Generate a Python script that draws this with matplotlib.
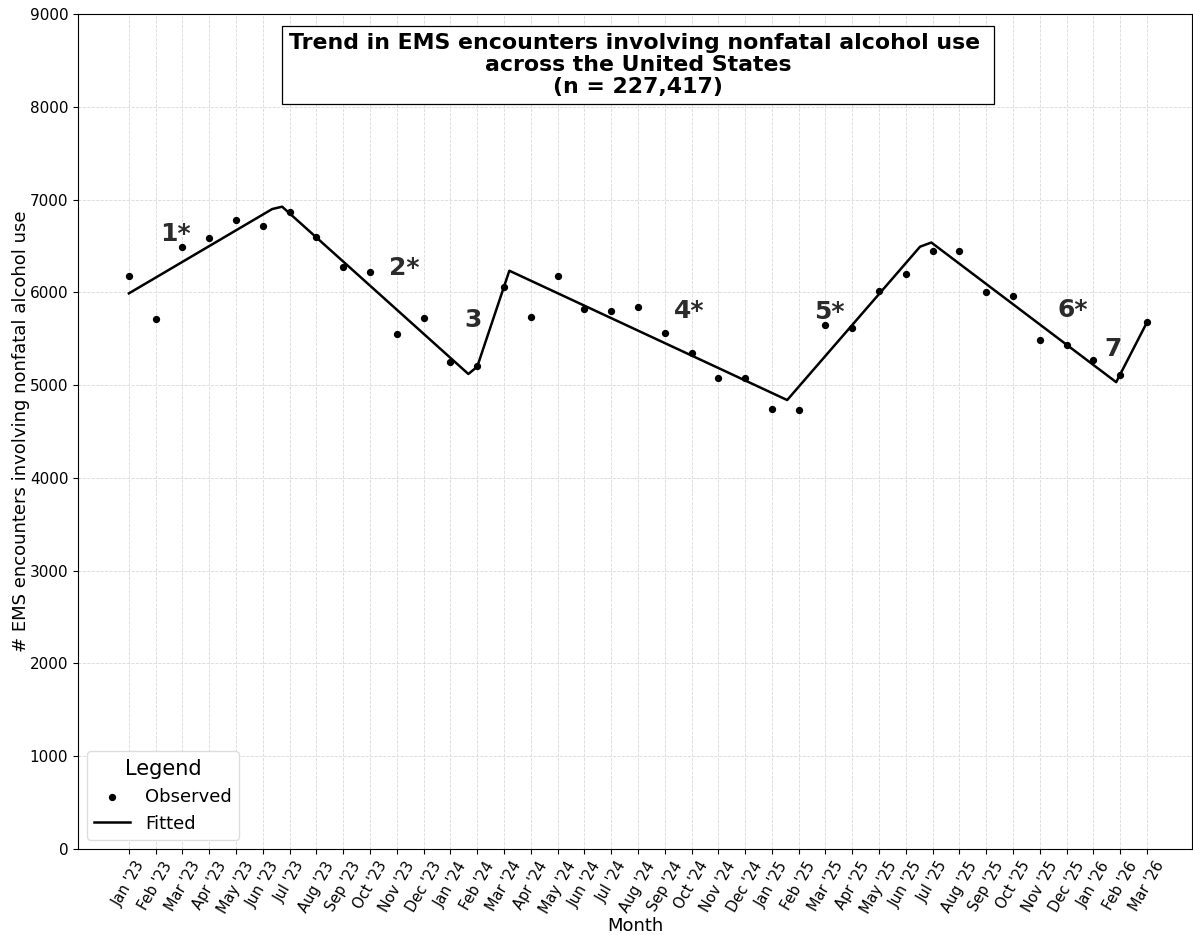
import matplotlib
matplotlib.use("Agg")
import matplotlib.pyplot as plt
import pandas as pd

# Monthly observed EMS encounter counts, Jan 2023 - Mar 2026
month_labels = list(pd.date_range("2023-01-01", periods=39, freq="MS").strftime("%b '%y"))
observed = [6176, 5712, 6488, 6585, 6779, 6715, 6866, 6596, 6273, 6219, 5551, 5723,
            5246, 5206, 6061, 5737, 6179, 5817, 5795, 5842, 5562, 5346, 5078, 5073,
            4742, 4728, 5648, 5619, 6018, 6201, 6449, 6449, 6000, 5957, 5486, 5432,
            5274, 5112, 5680]

# Joinpoint fitted trend (vertices, in month index units)
fitted_x = [0, 5.35, 5.72, 12.67, 13.0, 14.2, 24.57, 29.53, 29.95, 36.85, 38]
fitted_y = [5989, 6898, 6923, 5120, 5198, 6233, 4839, 6492, 6537, 5032, 5677]

# Segment labels (* = significant trend)
segment_labels = ["1*", "2*", "3", "4*", "5*", "6*", "7"]
segment_label_x = [1.75, 10.27, 12.84, 20.9, 26.13, 35.24, 36.73]
segment_label_y = [6629, 6262, 5702, 5799, 5788, 5809, 5389]

fig = plt.figure(figsize=(11.93, 9.35), dpi=100)
ax = fig.add_axes([78 / 1193, 86 / 935, 1114 / 1193, 835 / 935])

x_obs = list(range(len(observed)))
ax.scatter(x_obs, observed, s=18, color="black", label="Observed", zorder=3)
ax.plot(fitted_x, fitted_y, color="black", lw=1.8, label="Fitted", zorder=2)

for lab, lx, ly in zip(segment_labels, segment_label_x, segment_label_y):
    ax.text(lx, ly, lab, fontsize=18, fontweight="bold", color="#2b2b2b",
            ha="center", va="center")

ax.set_xlim(-1.9, 39.68)
ax.set_ylim(0, 9000)
ax.set_yticks(range(0, 9001, 1000))
ax.set_xticks(x_obs)
ax.set_xticklabels(month_labels, rotation=60, ha="center", fontsize=10.5)
ax.tick_params(axis="y", labelsize=11)
ax.grid(True, linestyle="--", linewidth=0.6, color="#d9d9d9")
ax.set_axisbelow(True)

ax.set_xlabel("Month", fontsize=13, labelpad=1)
ax.set_ylabel("# EMS encounters involving nonfatal alcohol use", fontsize=13, labelpad=0)

ax.text(0.503, 0.939,
        "Trend in EMS encounters involving nonfatal alcohol use \nacross the United States\n(n = 227,417)",
        transform=ax.transAxes, ha="center", va="center", fontsize=15.8,
        fontweight="bold", linespacing=1.13,
        bbox=dict(facecolor="white", edgecolor="black", linewidth=0.9, boxstyle="square,pad=0.3"))

leg = ax.legend(loc="lower left", title="Legend", fontsize=13, title_fontsize=15,
                framealpha=1, edgecolor="#dddddd")

fig.savefig("out.png", dpi=100)
